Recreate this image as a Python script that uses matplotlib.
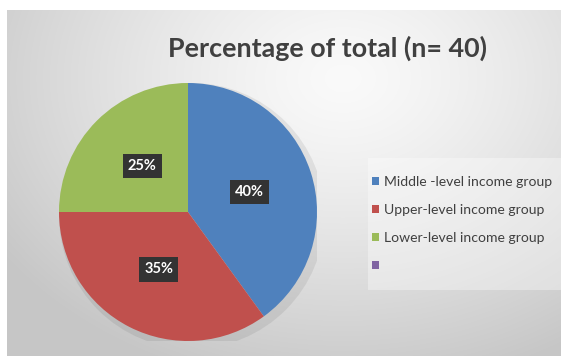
import numpy as np
import matplotlib.pyplot as plt
from matplotlib.patches import Circle

plt.rcParams['font.family'] = ['Lato', 'DejaVu Sans']

# data
groups = ['Middle -level income group', 'Upper-level income group',
          'Lower-level income group', '']
shares = [40, 35, 25, 0]
colors = ['#4f81bd', '#c0504d', '#9bbb59', '#8064a2']
title = 'Percentage of total (n= 40)'

W, H = 561, 356
fig = plt.figure(figsize=(W / 100, H / 100), dpi=100)
fig.patch.set_facecolor('white')

# background gradient (light near the title, grey towards the edges)
bg = fig.add_axes([0, 0, 1, 1])
bg.set_xlim(0, W)
bg.set_ylim(H, 0)
bg.axis('off')
yy, xx = np.mgrid[0:H, 0:W]
d = np.sqrt(((xx - 340) / 1.3) ** 2 + (yy - 70) ** 2)
shade = 0.98 - 0.2 * np.clip(d / 320, 0, 1) ** 1.3
bg.imshow(np.dstack([shade] * 3), extent=(7, W, H, 10), aspect='auto', zorder=0)

# legend backing box
bg.add_patch(plt.Rectangle((368, 158), 193, 132, facecolor='white', alpha=0.35,
                           edgecolor='none', zorder=1))

# pie
cx, cy, r = 188, 212, 129
ax = fig.add_axes([(cx - r) / W, (H - cy - r) / H, 2 * r / W, 2 * r / H])
ax.set_facecolor('none')
# faint shadow behind the pie
ax.add_patch(Circle((0.03, -0.03), 1.03, facecolor='black', alpha=0.07,
                    edgecolor='none', zorder=0))

wedges, _, autotexts = ax.pie(shares, colors=colors, startangle=90, counterclock=False,
                              autopct=lambda p: f'{p:.0f}%' if p > 0 else '',
                              pctdistance=0.5,
                              wedgeprops=dict(linewidth=0))
for t in autotexts:
    t.set_color('white')
    t.set_fontweight('bold')
    t.set_fontsize(10.5)
    t.set_bbox(dict(boxstyle='square,pad=0.35', facecolor='#333333', edgecolor='none'))
ax.set_xlim(-1, 1)
ax.set_ylim(-1, 1)
ax.axis('off')

fig.text(0.583, 0.865, title, ha='center', va='center', fontsize=19.4,
         fontweight='bold', color='#404040')

fig.legend(wedges, groups, loc='center left', bbox_to_anchor=(0.64, 0.371),
           frameon=False, fontsize=10.1, labelcolor='#404040',
           handlelength=0.55, handleheight=0.55, handletextpad=0.3,
           labelspacing=1.15)

fig.savefig('out.png', dpi=100)
